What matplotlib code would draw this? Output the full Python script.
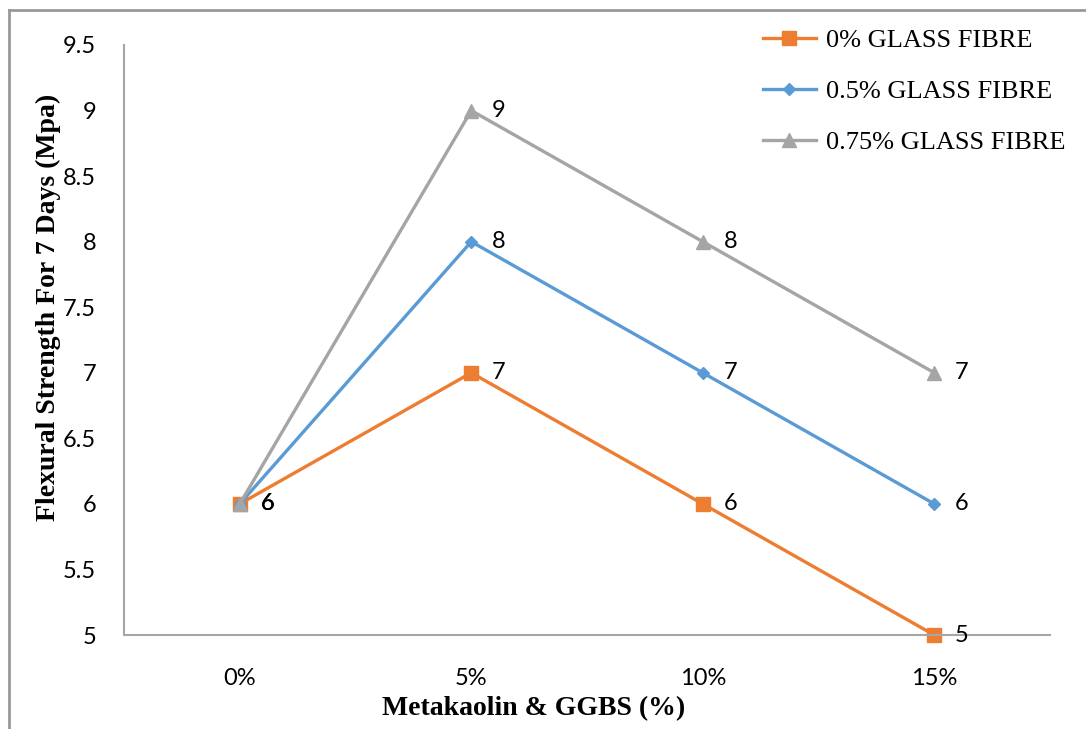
import matplotlib.pyplot as plt
from matplotlib.lines import Line2D

categories = ['0%', '5%', '10%', '15%']
fibre_0 = [6, 7, 6, 5]
fibre_05 = [6, 8, 7, 6]
fibre_075 = [6, 9, 8, 7]
series_names = ['0% GLASS FIBRE', '0.5% GLASS FIBRE', '0.75% GLASS FIBRE']
y_ticks = [5, 5.5, 6, 6.5, 7, 7.5, 8, 8.5, 9, 9.5]

colors = ['#ED7D31', '#5B9BD5', '#A5A5A5']
markers = ['s', 'D', '^']
msizes = [9.5, 6.5, 9.5]

fig = plt.figure(figsize=(10.86, 7.29), dpi=100)
ax = fig.add_axes([0.1142, 0.1289, 0.8527, 0.8094])

x = list(range(len(categories)))
handles = []
for vals, name, c, m, ms in zip([fibre_0, fibre_05, fibre_075], series_names,
                                colors, markers, msizes):
    h, = ax.plot(x, vals, color=c, lw=2.4, marker=m, ms=ms, mec=c, mfc=c,
                 label=name, clip_on=False)
    handles.append(h)
    for xi, v in zip(x, vals):
        ax.annotate(f'{v:g}', (xi, v), xytext=(15, 0), textcoords='offset points',
                    va='center', ha='left', fontsize=17, family='Lato')

ax.set_xlim(-0.5, 3.5)
ax.set_ylim(5, 9.5)
ax.set_xticks(x)
ax.set_xticklabels(categories)
ax.set_yticks(y_ticks)
ax.set_yticklabels([f'{t:g}' for t in y_ticks])
ax.tick_params(length=0, labelsize=17)
ax.tick_params(axis='x', pad=24)
ax.tick_params(axis='y', pad=20)
for lbl in ax.get_xticklabels() + ax.get_yticklabels():
    lbl.set_family('Lato')

for s in ['top', 'right']:
    ax.spines[s].set_visible(False)
for s in ['left', 'bottom']:
    ax.spines[s].set_color('#A6A6A6')
    ax.spines[s].set_linewidth(1.5)

ax.set_xlabel('Metakaolin & GGBS (%)', family='Liberation Serif',
              fontweight='bold', fontsize=20)
ax.set_ylabel('Flexural Strength For 7 Days (Mpa)', family='Liberation Serif',
              fontweight='bold', fontsize=20)
ax.xaxis.set_label_coords(0.442, -0.103)
ax.yaxis.set_label_coords(-0.0676, 0.556)

leg = fig.legend(handles=handles, loc='upper left', bbox_to_anchor=(0.7026, 0.961),
                 frameon=False, prop={'family': 'Liberation Serif', 'size': 19},
                 handlelength=2.0, labelspacing=1.05, handletextpad=0.4,
                 borderpad=0, borderaxespad=0)

# partial frame of the original picture
fig.add_artist(Line2D([0.0085, 0.0085], [0, 0.986], color='#999999', lw=2,
                      transform=fig.transFigure))
fig.add_artist(Line2D([0.0085, 1.0], [0.986, 0.986], color='#999999', lw=2,
                      transform=fig.transFigure))

fig.savefig('out.png', dpi=100)
